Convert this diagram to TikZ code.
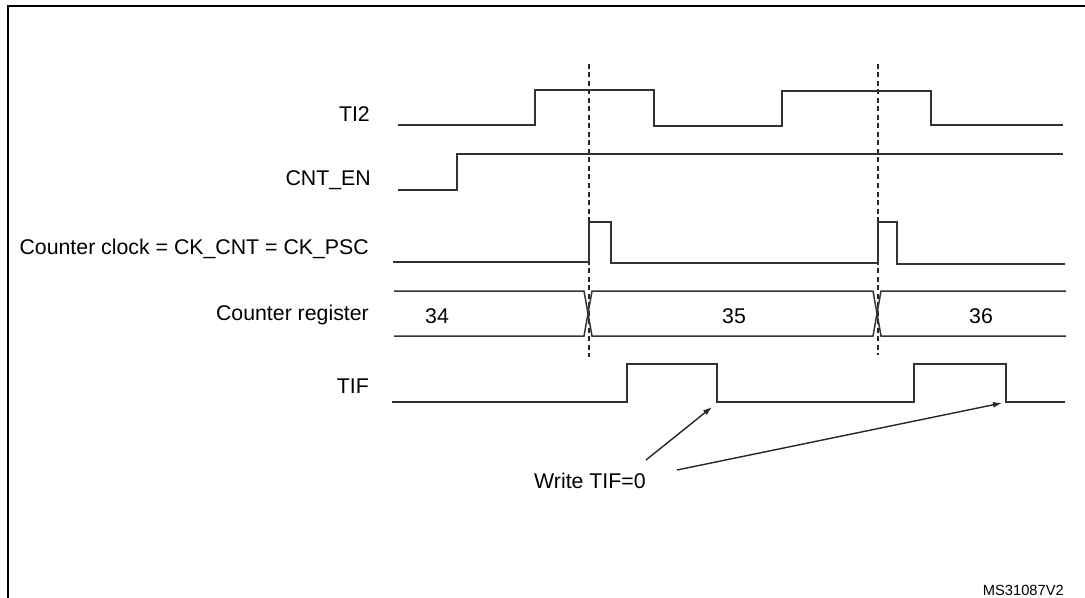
\documentclass[tikz,border=0pt]{standalone}
\usepackage{fontspec}
\setmainfont{Liberation Sans}
\usetikzlibrary{arrows.meta}
\begin{document}
\begin{tikzpicture}[x=1bp,y=-1bp,
  sig/.style={line width=1.5bp,draw=black!80,line join=miter},
  lbl/.style={anchor=base east,inner sep=0pt,font=\fontsize{21.3bp}{25bp}\selectfont},
  val/.style={anchor=base,inner sep=0pt,font=\fontsize{21.3bp}{25bp}\selectfont},
  guide/.style={line width=1.4bp,draw=black!85,dash pattern=on 5bp off 3.5bp},
  ptr/.style={line width=1.4bp,draw=black!85,-{Latex[length=9bp,width=6bp]}}]
\useasboundingbox (0,0) rectangle (1085,598);
% frame (partly cut off)
\draw[line width=2.2bp] (8,598) -- (8,6) -- (1085,6);
% labels
\node[lbl] (ti2) at (370,122) {TI2};
\node[lbl] (cnten) at (371,186) {CNT\_EN};
\node[lbl] (ckcnt) at (369,255) {Counter clock = CK\_CNT = CK\_PSC};
\node[lbl] (creg) at (369,321) {Counter register};
\node[lbl] (tif) at (369,393) {TIF};
% dashed guides
\draw[guide] (589,64) -- (589,357);
\draw[guide] (878,64) -- (878,355);
% TI2
\draw[sig] (398,125) -- (535,125) -- (535,90) -- (654,90) -- (654,126) -- (782,126) -- (782,91) -- (931,91) -- (931,125) -- (1063,125);
% CNT_EN
\draw[sig] (398,190) -- (457,190) -- (457,154) -- (1063,154);
% counter clock
\draw[sig] (393,262) -- (589,262) -- (589,222) -- (611,222) -- (611,263) -- (878,263) -- (878,222) -- (897,222) -- (897,264) -- (1065,264);
% counter register
\draw[sig] (394,291) -- (584,291) -- (592,336) -- (873,336) -- (881,291) -- (1066,291);
\draw[sig] (394,336) -- (584,336) -- (592,291) -- (873,291) -- (881,336) -- (1066,336);
\node[val] (v34) at (437,324) {34};
\node[val] (v35) at (734,324) {35};
\node[val] (v36) at (981,324) {36};
% TIF
\draw[sig] (392,402) -- (627,402) -- (627,364) -- (717,364) -- (717,402) -- (914,402) -- (914,364) -- (1006,364) -- (1006,402) -- (1065,402);
% write TIF=0
\node[anchor=base west,inner sep=0pt,font=\fontsize{21.3bp}{25bp}\selectfont] (wr) at (534,488) {Write TIF=0};
\coordinate (s1) at (646,460);
\coordinate (t1) at (712,407);
\coordinate (s2) at (677,470);
\coordinate (t2) at (1002,403);
\draw[ptr] (s1) -- (t1);
\draw[ptr] (s2) -- (t2);
% code
\node[anchor=base east,inner sep=0pt,font=\fontsize{14.7bp}{17bp}\selectfont] (code) at (1064,595) {MS31087V2};
\end{tikzpicture}
\end{document}
